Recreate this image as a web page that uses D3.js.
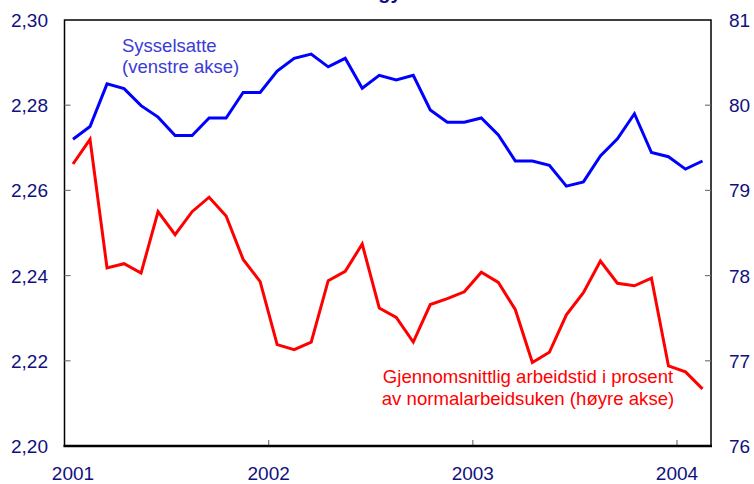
<!DOCTYPE html>
<html>
<head>
<meta charset="utf-8">
<script src="https://cdn.jsdelivr.net/npm/d3@7"></script>
<style>
  body { margin: 0; background: #fff; }
  svg { display: block; font-family: "Liberation Sans", Arial, sans-serif; }
</style>
</head>
<body>
<svg id="chart"></svg>
<script>
// set svg params

var svgWidth = 754, svgHeight = 484;
var plot = {left: 64.5, right: 711, top: 20, bottom: 446};

// data: monthly, Jan 2001 - Feb 2004

var employed = [2.2720, 2.2750, 2.2850, 2.2839, 2.2799, 2.2772, 2.2729, 2.2729, 2.2770, 2.2770, 2.2830, 2.2830,
                2.2880, 2.2910, 2.2920, 2.2890, 2.2910, 2.2840, 2.2870, 2.2859, 2.2870, 2.2789, 2.2760, 2.2760,
                2.2770, 2.2730, 2.2669, 2.2669, 2.2659, 2.2610, 2.2620, 2.2681, 2.2721, 2.2780, 2.2689, 2.2679,
                2.2650, 2.2669];

var hours = [79.31, 79.60, 78.09, 78.14, 78.03, 78.75, 78.48, 78.75, 78.92, 78.70, 78.19, 77.93,
             77.19, 77.13, 77.22, 77.94, 78.05, 78.37, 77.62, 77.51, 77.22, 77.66, 77.73, 77.81,
             78.04, 77.92, 77.60, 76.98, 77.10, 77.54, 77.80, 78.17, 77.91, 77.88, 77.97, 76.94,
             76.87, 76.67];

var yearLabels = ["2001", "2002", "2003", "2004"];
var leftTicks = [2.20, 2.22, 2.24, 2.26, 2.28, 2.30];
var rightTicks = [76, 77, 78, 79, 80, 81];

var navy = "#10107f";

var svg = d3.select("#chart")
    .attr("width", svgWidth)
    .attr("height", svgHeight);

// scales

var xScale = d3.scaleLinear()
    .domain([0, employed.length])
    .range([plot.left, plot.right]);

var yLeft = d3.scaleLinear()
    .domain([2.20, 2.30])
    .range([plot.bottom, plot.top]);

var yRight = d3.scaleLinear()
    .domain([76, 81])
    .range([plot.bottom, plot.top]);

var comma = d3.formatLocale({decimal: ",", thousands: " ", grouping: [3], currency: ["", ""]}).format(".2f");

// cut-off title at the very top

svg.append("text")
    .attr("x", 390).attr("y", -1)
    .attr("text-anchor", "middle")
    .attr("font-size", 20).attr("font-weight", "bold")
    .attr("fill", navy)
    .text("gy");

// frame

svg.append("rect")
    .attr("x", plot.left).attr("y", plot.top)
    .attr("width", plot.right - plot.left).attr("height", plot.bottom - plot.top)
    .attr("fill", "none").attr("stroke", "#000").attr("stroke-width", 1.5);

// ticks (inside the frame)

svg.append("g").selectAll("line")
    .data(leftTicks.slice(1, -1))
    .enter().append("line")
    .attr("x1", plot.left).attr("x2", plot.left + 6)
    .attr("y1", function (d) { return yLeft(d); })
    .attr("y2", function (d) { return yLeft(d); })
    .attr("stroke", "#777").attr("stroke-width", 1.2);

svg.append("g").selectAll("line")
    .data(rightTicks.slice(1, -1))
    .enter().append("line")
    .attr("x1", plot.right - 6).attr("x2", plot.right)
    .attr("y1", function (d) { return yRight(d); })
    .attr("y2", function (d) { return yRight(d); })
    .attr("stroke", "#777").attr("stroke-width", 1.2);

svg.append("g").selectAll("line")
    .data(yearLabels.slice(1))
    .enter().append("line")
    .attr("x1", function (d, i) { return xScale((i + 1) * 12); })
    .attr("x2", function (d, i) { return xScale((i + 1) * 12); })
    .attr("y1", plot.bottom).attr("y2", plot.bottom - 6)
    .attr("stroke", "#777").attr("stroke-width", 1.2);

// bottom axis line

svg.append("line")
    .attr("x1", plot.left - 1).attr("x2", plot.right + 1)
    .attr("y1", plot.bottom).attr("y2", plot.bottom)
    .attr("stroke", "#000").attr("stroke-width", 2.5);

// tick labels

svg.append("g").selectAll("text")
    .data(leftTicks)
    .enter().append("text")
    .attr("x", 48)
    .attr("y", function (d) { return yLeft(d) + 7; })
    .attr("text-anchor", "end")
    .attr("font-size", 19).attr("fill", navy)
    .text(function (d) { return comma(d); });

svg.append("g").selectAll("text")
    .data(rightTicks)
    .enter().append("text")
    .attr("x", 729)
    .attr("y", function (d) { return yRight(d) + 7; })
    .attr("text-anchor", "start")
    .attr("font-size", 19).attr("fill", navy)
    .text(function (d) { return d; });

svg.append("g").selectAll("text")
    .data(yearLabels)
    .enter().append("text")
    .attr("x", function (d, i) { return i === 0 ? xScale(0.5) : xScale(i * 12); })
    .attr("y", 480)
    .attr("text-anchor", "middle")
    .attr("font-size", 19).attr("fill", navy)
    .text(function (d) { return d; });

// lines

var lineLeft = d3.line()
    .x(function (d, i) { return xScale(i + 0.5); })
    .y(function (d) { return yLeft(d); });

var lineRight = d3.line()
    .x(function (d, i) { return xScale(i + 0.5); })
    .y(function (d) { return yRight(d); });

svg.append("path")
    .datum(hours)
    .attr("d", lineRight)
    .attr("fill", "none").attr("stroke", "#ff0000")
    .attr("stroke-width", 3).attr("stroke-linejoin", "miter");

svg.append("path")
    .datum(employed)
    .attr("d", lineLeft)
    .attr("fill", "none").attr("stroke", "#0000ff")
    .attr("stroke-width", 3).attr("stroke-linejoin", "miter");

// annotations

var blueNote = svg.append("text")
    .attr("font-size", 18.5).attr("fill", "#3b3bd6");
blueNote.append("tspan").attr("x", 122).attr("y", 52).text("Sysselsatte");
blueNote.append("tspan").attr("x", 122).attr("y", 73).text("(venstre akse)");

var redNote = svg.append("text")
    .attr("font-size", 18.6).attr("fill", "#ff0000")
    .attr("text-anchor", "middle");
redNote.append("tspan").attr("x", 528).attr("y", 383).text("Gjennomsnittlig arbeidstid i prosent");
redNote.append("tspan").attr("x", 528).attr("y", 405).text("av normalarbeidsuken (høyre akse)");
</script>
</body>
</html>
